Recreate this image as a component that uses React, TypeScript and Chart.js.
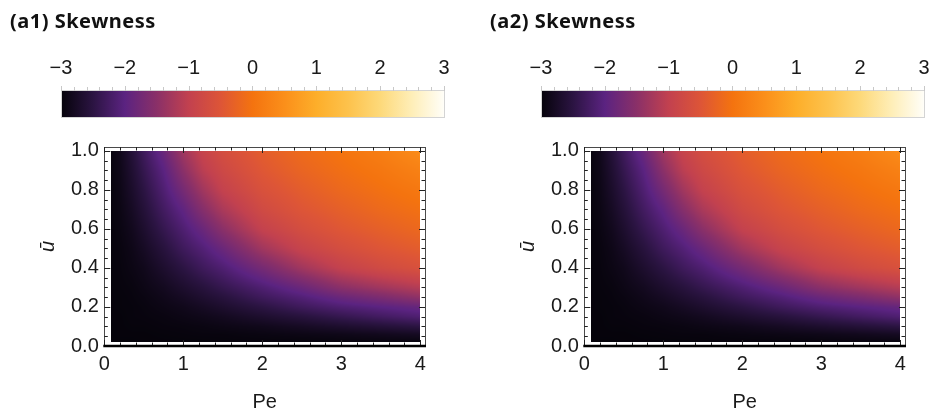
import React, { useEffect, useRef } from "react";
import { Chart, registerables } from "chart.js";

Chart.register(...registerables);

// ---------------- data ----------------
const titles = ["(a1) Skewness", "(a2) Skewness"];

// Pe sample positions (columns) and u-bar sample positions (rows)
const peGrid = [0.08, 0.2, 0.35, 0.5, 0.75, 1, 1.25, 1.5, 2, 2.5, 3, 3.5, 4];
const uGrid = [0.02, 0.06, 0.1, 0.15, 0.2, 0.25, 0.3, 0.4, 0.5, 0.6, 0.7, 0.8, 0.9, 1.0];

// skewness (a1); rows follow uGrid, columns follow peGrid
const skewA1 = [
  [-3.0, -3.0, -3.0, -2.99, -2.99, -2.99, -2.99, -2.98, -2.98, -2.98, -2.97, -2.96, -2.96],
  [-3.0, -2.99, -2.99, -2.99, -2.98, -2.97, -2.96, -2.96, -2.93, -2.9, -2.87, -2.83, -2.78],
  [-3.0, -2.99, -2.98, -2.98, -2.96, -2.95, -2.93, -2.9, -2.85, -2.77, -2.68, -2.59, -2.5],
  [-2.99, -2.99, -2.97, -2.96, -2.94, -2.9, -2.86, -2.81, -2.68, -2.55, -2.4, -2.26, -2.13],
  [-2.99, -2.98, -2.97, -2.95, -2.9, -2.85, -2.77, -2.68, -2.5, -2.3, -2.13, -2.0, -1.88],
  [-2.99, -2.98, -2.96, -2.93, -2.86, -2.77, -2.66, -2.55, -2.3, -2.09, -1.84, -1.65, -1.45],
  [-2.99, -2.97, -2.95, -2.9, -2.81, -2.68, -2.55, -2.4, -2.13, -1.84, -1.5, -1.3, -1.12],
  [-2.98, -2.96, -2.91, -2.85, -2.68, -2.5, -2.3, -2.13, -1.72, -1.3, -0.97, -0.76, -0.6],
  [-2.98, -2.95, -2.88, -2.77, -2.55, -2.3, -2.09, -1.84, -1.3, -0.92, -0.68, -0.5, -0.37],
  [-2.98, -2.93, -2.83, -2.68, -2.4, -2.13, -1.84, -1.5, -0.97, -0.68, -0.47, -0.32, -0.18],
  [-2.97, -2.91, -2.77, -2.59, -2.26, -1.95, -1.55, -1.21, -0.76, -0.5, -0.32, -0.16, -0.04],
  [-2.97, -2.89, -2.71, -2.5, -2.13, -1.72, -1.3, -0.97, -0.6, -0.37, -0.18, -0.04, 0.09],
  [-2.96, -2.87, -2.65, -2.4, -2.01, -1.5, -1.07, -0.81, -0.47, -0.24, -0.07, 0.07, 0.25],
  [-2.96, -2.85, -2.59, -2.3, -1.84, -1.3, -0.92, -0.68, -0.37, -0.14, 0.02, 0.2, 0.45],
];

// skewness (a2)
const skewA2 = [
  [-3.0, -3.0, -3.0, -2.99, -2.99, -2.99, -2.99, -2.98, -2.98, -2.98, -2.97, -2.96, -2.96],
  [-3.0, -2.99, -2.99, -2.99, -2.98, -2.97, -2.96, -2.96, -2.93, -2.9, -2.87, -2.83, -2.78],
  [-3.0, -2.99, -2.98, -2.98, -2.96, -2.95, -2.93, -2.9, -2.85, -2.77, -2.68, -2.59, -2.5],
  [-2.99, -2.99, -2.97, -2.96, -2.94, -2.9, -2.86, -2.81, -2.68, -2.55, -2.4, -2.26, -2.13],
  [-2.99, -2.98, -2.97, -2.95, -2.9, -2.85, -2.77, -2.68, -2.5, -2.3, -2.13, -2.0, -1.88],
  [-2.99, -2.98, -2.96, -2.93, -2.86, -2.77, -2.66, -2.55, -2.3, -2.09, -1.84, -1.65, -1.45],
  [-2.99, -2.97, -2.95, -2.9, -2.81, -2.68, -2.55, -2.4, -2.13, -1.84, -1.5, -1.3, -1.12],
  [-2.98, -2.96, -2.91, -2.85, -2.68, -2.5, -2.3, -2.13, -1.72, -1.3, -0.97, -0.76, -0.6],
  [-2.98, -2.95, -2.88, -2.77, -2.55, -2.3, -2.09, -1.84, -1.3, -0.92, -0.68, -0.5, -0.37],
  [-2.98, -2.93, -2.83, -2.68, -2.4, -2.13, -1.84, -1.5, -0.97, -0.68, -0.47, -0.32, -0.18],
  [-2.97, -2.91, -2.77, -2.59, -2.26, -1.95, -1.55, -1.21, -0.76, -0.5, -0.32, -0.16, -0.04],
  [-2.97, -2.89, -2.71, -2.5, -2.13, -1.72, -1.3, -0.97, -0.6, -0.37, -0.18, -0.04, 0.09],
  [-2.96, -2.87, -2.65, -2.4, -2.01, -1.5, -1.07, -0.81, -0.47, -0.24, -0.07, 0.07, 0.25],
  [-2.96, -2.85, -2.59, -2.3, -1.84, -1.3, -0.92, -0.68, -0.37, -0.14, 0.02, 0.2, 0.45],
];

const xTickLabels = [0, 1, 2, 3, 4];
const yTickLabels = [0, 0.2, 0.4, 0.6, 0.8, 1.0];
const cbTickLabels = [-3, -2, -1, 0, 1, 2, 3];

// colour map (value -> colour)
const cmapValues = [-3, -2.5, -2, -1.5, -1, -0.5, 0, 0.5, 1, 1.5, 2, 2.5, 3];
const cmapColors = [
  "#05030a", "#2b1442", "#5b2381", "#8a3068", "#c2414f", "#dd5537", "#f4730f",
  "#fb8f1a", "#fdae2a", "#fdc24c", "#fdd97a", "#feeeb8", "#fffef8",
];

// ---------------- helpers ----------------
const FONT = '"Liberation Sans", Arial, sans-serif';
const FS = 20;
const TXT = "#1a1a1a";

function hexToRgb(h: string) {
  const n = parseInt(h.slice(1), 16);
  return [(n >> 16) & 255, (n >> 8) & 255, n & 255];
}
const cmapRgb = cmapColors.map(hexToRgb);

function cmap(v: number) {
  const n = cmapValues.length;
  if (v <= cmapValues[0]) return cmapRgb[0];
  if (v >= cmapValues[n - 1]) return cmapRgb[n - 1];
  let i = 0;
  while (i < n - 2 && v > cmapValues[i + 1]) i++;
  const t = (v - cmapValues[i]) / (cmapValues[i + 1] - cmapValues[i]);
  const a = cmapRgb[i], b = cmapRgb[i + 1];
  return [a[0] + (b[0] - a[0]) * t, a[1] + (b[1] - a[1]) * t, a[2] + (b[2] - a[2]) * t];
}

function locate(arr: number[], v: number) {
  const n = arr.length;
  if (v <= arr[0]) return [0, 0];
  if (v >= arr[n - 1]) return [n - 2, 1];
  let i = 0;
  while (i < n - 2 && v > arr[i + 1]) i++;
  return [i, (v - arr[i]) / (arr[i + 1] - arr[i])];
}

function sample(grid: number[][], pe: number, u: number) {
  const [i, tx] = locate(peGrid, pe);
  const [j, ty] = locate(uGrid, u);
  const v00 = grid[j][i], v01 = grid[j][i + 1];
  const v10 = grid[j + 1][i], v11 = grid[j + 1][i + 1];
  const a = v00 + (v01 - v00) * tx;
  const b = v10 + (v11 - v10) * tx;
  return a + (b - a) * ty;
}

function fmtMinus(v: number) {
  return v < 0 ? "\u2212" + Math.abs(v) : String(v);
}

function range(a: number, b: number, step: number) {
  const out: number[] = [];
  const n = Math.round((b - a) / step);
  for (let k = 0; k <= n; k++) out.push(+(a + k * step).toFixed(6));
  return out;
}

// ---------------- plugins ----------------
function heatPlugin(grid: number[][]) {
  return {
    id: "heat",
    beforeDatasetsDraw(chart: any) {
      const { ctx } = chart;
      const xs = chart.scales.x, ys = chart.scales.y;
      const x0 = Math.round(xs.getPixelForValue(peGrid[0]));
      const x1 = Math.round(xs.getPixelForValue(peGrid[peGrid.length - 1]));
      const yT = Math.round(ys.getPixelForValue(uGrid[uGrid.length - 1]));
      const yB = Math.round(ys.getPixelForValue(uGrid[0]));
      const w = x1 - x0, h = yB - yT;
      if (w <= 0 || h <= 0) return;
      const off = document.createElement("canvas");
      off.width = w; off.height = h;
      const octx = off.getContext("2d")!;
      const img = octx.createImageData(w, h);
      for (let j = 0; j < h; j++) {
        const u = ys.getValueForPixel(yT + j + 0.5);
        for (let i = 0; i < w; i++) {
          const pe = xs.getValueForPixel(x0 + i + 0.5);
          const c = cmap(sample(grid, pe, u));
          const k = (j * w + i) * 4;
          img.data[k] = c[0]; img.data[k + 1] = c[1]; img.data[k + 2] = c[2]; img.data[k + 3] = 255;
        }
      }
      octx.putImageData(img, 0, 0);
      ctx.drawImage(off, x0, yT);
    },
  };
}

const framePlugin = {
  id: "frame",
  afterDraw(chart: any) {
    const { ctx, chartArea: a } = chart;
    const xs = chart.scales.x, ys = chart.scales.y;
    ctx.save();
    ctx.strokeStyle = "#4a4a4a";
    ctx.lineWidth = 1;
    ctx.strokeRect(Math.round(a.left) + 0.5, Math.round(a.top) + 0.5, Math.round(a.right - a.left), Math.round(a.bottom - a.top));
    ctx.strokeStyle = "#222";
    range(0, 4, 0.2).forEach((v) => {
      const major = Math.abs(v - Math.round(v)) < 1e-6;
      const L = major ? 6 : 3.5;
      const px = Math.round(xs.getPixelForValue(v)) + 0.5;
      ctx.beginPath();
      ctx.moveTo(px, a.bottom); ctx.lineTo(px, a.bottom - L);
      ctx.moveTo(px, a.top); ctx.lineTo(px, a.top + L);
      ctx.stroke();
    });
    range(0, 1, 0.05).forEach((v) => {
      const major = Math.abs(v * 5 - Math.round(v * 5)) < 1e-6;
      const L = major ? 6 : 3.5;
      const py = Math.round(ys.getPixelForValue(v)) + 0.5;
      ctx.beginPath();
      ctx.moveTo(a.left, py); ctx.lineTo(a.left + L, py);
      ctx.moveTo(a.right, py); ctx.lineTo(a.right - L, py);
      ctx.stroke();
    });
    const y0 = ys.getPixelForValue(0);
    ctx.strokeStyle = "#000";
    ctx.lineWidth = 2.5;
    ctx.beginPath();
    ctx.moveTo(a.left - 1, y0); ctx.lineTo(a.right + 1, y0);
    ctx.stroke();
    ctx.restore();
  },
};

const colorbarPlugin = {
  id: "cbar",
  beforeDatasetsDraw(chart: any) {
    const { ctx, chartArea: a } = chart;
    const xs = chart.scales.x;
    const g = ctx.createLinearGradient(a.left, 0, a.right, 0);
    cmapValues.forEach((v, i) => {
      const t = (xs.getPixelForValue(v) - a.left) / (a.right - a.left);
      g.addColorStop(Math.min(1, Math.max(0, t)), cmapColors[i]);
    });
    ctx.save();
    ctx.fillStyle = g;
    ctx.fillRect(a.left, a.top, a.right - a.left, a.bottom - a.top);
    ctx.strokeStyle = "#d4d4d4";
    ctx.lineWidth = 1;
    ctx.strokeRect(Math.round(a.left) + 0.5, Math.round(a.top) - 0.5, Math.round(a.right - a.left), Math.round(a.bottom - a.top) + 1);
    ctx.strokeStyle = "#c8c8c8";
    range(-3, 3, 0.2).forEach((v) => {
      const major = Math.abs(v - Math.round(v)) < 1e-6;
      const px = Math.round(xs.getPixelForValue(v)) + 0.5;
      ctx.beginPath();
      ctx.moveTo(px, a.top);
      ctx.lineTo(px, a.top - (major ? 5 : 4));
      ctx.stroke();
    });
    ctx.restore();
  },
};

// ---------------- components ----------------
const PANEL_W = 460;

function Panel({ left, title, grid }: { left: number; title: string; grid: number[][] }) {
  const cbRef = useRef<HTMLCanvasElement>(null);
  const mainRef = useRef<HTMLCanvasElement>(null);

  useEffect(() => {
    const noGrid = { display: false, drawTicks: false };
    const cb = new Chart(cbRef.current!, {
      type: "scatter",
      data: { datasets: [] },
      plugins: [colorbarPlugin],
      options: {
        animation: false,
        responsive: false,
        events: [],
        layout: { padding: { left: 61, right: PANEL_W - 447, top: 0, bottom: 125 - 117 } },
        plugins: { legend: { display: false }, tooltip: { enabled: false } },
        scales: {
          x: {
            type: "linear",
            position: "top",
            min: -3,
            max: 3,
            afterBuildTicks: (s: any) => { s.ticks = cbTickLabels.map((v) => ({ value: v })); },
            afterFit: (s: any) => { s.height = 91; },
            ticks: { callback: (v: any) => fmtMinus(Number(v)), padding: 10.5, color: TXT, font: { family: FONT, size: FS }, maxRotation: 0, autoSkip: false },
            grid: noGrid,
            border: { display: false },
          },
          y: { display: false, min: 0, max: 1 },
        },
      } as any,
    });

    const main = new Chart(mainRef.current!, {
      type: "scatter",
      data: { datasets: [] },
      plugins: [heatPlugin(grid), framePlugin],
      options: {
        animation: false,
        responsive: false,
        events: [],
        layout: { padding: { left: 0, right: PANEL_W - 425, top: 22, bottom: 0 } },
        plugins: { legend: { display: false }, tooltip: { enabled: false } },
        scales: {
          x: {
            type: "linear",
            min: 0,
            max: 4.06,
            afterBuildTicks: (s: any) => { s.ticks = xTickLabels.map((v) => ({ value: v })); },
            afterFit: (s: any) => { s.height = 70; },
            ticks: { callback: (v: any) => String(v), padding: 6, color: TXT, font: { family: FONT, size: FS }, maxRotation: 0, autoSkip: false },
            grid: noGrid,
            border: { display: false },
            title: { display: true, text: "Pe", color: TXT, font: { family: FONT, size: FS }, padding: { top: 0, bottom: 1.5 } },
          },
          y: {
            type: "linear",
            min: 0,
            max: 1.02,
            afterBuildTicks: (s: any) => { s.ticks = yTickLabels.map((v) => ({ value: v })); },
            afterFit: (s: any) => { s.width = 104.3; },
            ticks: { callback: (v: any) => Number(v).toFixed(1), padding: 5.5, color: TXT, font: { family: FONT, size: FS }, autoSkip: false },
            grid: noGrid,
            border: { display: false },
            title: { display: true, text: "ū", color: TXT, font: { family: FONT, size: FS, style: "italic" }, padding: { top: 36, bottom: 0 } },
          },
        },
      } as any,
    });

    return () => {
      cb.destroy();
      main.destroy();
    };
  }, [grid]);

  return (
    <div style={{ position: "absolute", left, top: 0, width: PANEL_W, height: 416 }}>
      <div
        style={{
          position: "absolute",
          left: 10,
          top: 10.5,
          font: 'bold 20px "Noto Sans", sans-serif',
          lineHeight: "20px",
          letterSpacing: "0.5px",
          color: "#111",
          whiteSpace: "nowrap",
          zIndex: 2,
        }}
      >
        {title}
      </div>
      <canvas ref={cbRef} width={PANEL_W} height={125} style={{ position: "absolute", left: 0, top: 0 }} />
      <canvas ref={mainRef} width={PANEL_W} height={291} style={{ position: "absolute", left: 0, top: 125 }} />
    </div>
  );
}

export default function App() {
  return (
    <div
      style={{
        position: "fixed",
        left: 0,
        top: 0,
        width: 932,
        height: 416,
        overflow: "hidden",
        background: "#fff",
      }}
    >
      <Panel left={0} title={titles[0]} grid={skewA1} />
      <Panel left={480} title={titles[1]} grid={skewA2} />
    </div>
  );
}
